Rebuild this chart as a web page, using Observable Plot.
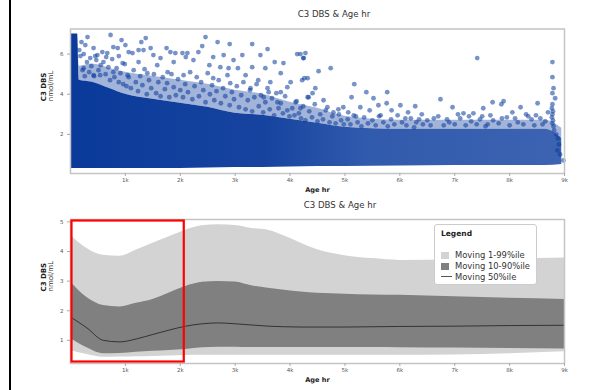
<!DOCTYPE html>
<html><head><meta charset="utf-8">
<script src="https://cdn.jsdelivr.net/npm/d3@7"></script>
<script src="https://cdn.jsdelivr.net/npm/@observablehq/plot@0.6"></script>
<style>
body{margin:0;background:#fff;font-family:"DejaVu Sans",sans-serif;}
#wrap{position:relative;width:592px;height:390px;overflow:hidden;}
.abs{position:absolute;}
.title{font-size:8.6px;color:#333;white-space:nowrap;transform:translateX(-50%);}
#legend{left:434px;top:224px;width:103px;height:61px;border:1px solid #ccc;border-radius:3px;background:#fff;box-sizing:border-box;}
.lgT{position:absolute;left:6px;top:4px;font-size:7.5px;font-weight:bold;color:#222;}
.lgI{position:absolute;left:6px;font-size:8.4px;color:#333;white-space:nowrap;}
.sw{display:inline-block;width:8px;height:7px;vertical-align:-1px;margin-right:6px;}
.ln{display:inline-block;width:11px;height:0;border-top:1.2px solid #555;vertical-align:3px;margin-right:3px;}
</style></head>
<body><div id="wrap"></div>
<script>
// ---------- data ----------
const chartTitle = "C3 DBS & Age hr";
const xLabel = "Age hr";
const yLabel = "C3 DBS";
const yUnit = "nmol/mL";
const xTicks = [1000,2000,3000,4000,5000,6000,7000,8000,9000];
const yTicksTop = [2,4,6];
const yTicksBottom = [1,2,3,4,5];

// top panel: dense core of the scatter (envelopes)
const envAge  = [15, 130, 160, 400, 700, 1000, 1500, 2000, 2500, 3000, 3500, 4000, 4500, 5000, 6000, 7000, 8000, 8650, 8950];
const envLow  = [0.3, 0.3, 0.3, 0.3, 0.3, 0.3, 0.3, 0.3, 0.32, 0.35, 0.35, 0.38, 0.4, 0.4, 0.42, 0.45, 0.45, 0.45, 0.5];
const envCore = [7.0, 7.0, 4.7, 4.6, 4.3, 4.0, 3.75, 3.55, 3.35, 3.05, 2.95, 2.75, 2.55, 2.35, 2.25, 2.25, 2.25, 2.25, 1.8];
const envHaze = [7.0, 7.0, 5.4, 5.5, 5.3, 5.1, 4.9, 4.7, 4.5, 4.2, 4.0, 3.6, 3.3, 2.9, 2.7, 2.7, 2.7, 2.7, 2.3];

// top panel: individual scattered points (age hr, C3 DBS)
const outAge = [310,730,930,1290,1370,200,420,580,860,1060,1240,1460,1750,1910,2100,
 270,360,490,670,780,1000,1130,1330,1510,1640,1820,2040,240,550,950,1240,1580,1880,420,780,1040,1400,1770,2060,
 2460,2680,2900,3310,3590,4130,4190,4240,3130,3460,2790,2600,2330,2400,3720,3880,4010,3830,3310,3050,2730,2970,3550,3830,3610,4100,4320,4320,
 2130,2240,2530,2880,3190,3420,3640,3950,2600,2910,3280,3520,3770,4190,
 4250,4280,4520,4740,4260,4220,4460,4410,4340,4610,5170,5120,5390,5520,5770,5760,6010,6280,4970,5280,5610,4790,
 4890,5060,5450,5850,6150,6400,4650,5200,5650,6100,
 7410,8780,8780,8800,8780,8830,6740,6960,7690,7890,7850,7520,7160,8200,8510,8980,7340,8050,8340,8560,
 8780,8770,8790,8780,8770,8790,8780,8800,8810,8850,8880,8900,8870,8920,
 6500,6700,6900,7100,7300,7500,7700,7950,8150,8400,8600,6300,7600,8000,
 180,220,260,300,340,380,430,470,510,540,600,640,690,720,760,800,840,880,910,960,990,160,240,450,650,880,
 1020,1060,1100,1150,1190,1230,1270,1310,1350,1390,1430,1470,1520,1560,1600,1640,1680,1720,1760,1800,1840,1880,1920,1960,2000,
 2050,2090,2140,2180,2220,2260,2300,2340,2380,2420,2460,2500,2540,2580,2620,2660,2700,2740,2780,2820,2860,2900,2940,2980,
 3030,3070,3110,3150,3190,3230,3270,3310,3350,3390,3430,3470,3510,3550,3590,3630,3670,3710,3750,3790,3830,3870,3910,3950,3990,
 4040,4080,4120,4160,4200,4240,4280,4350,4400,4450,4500,4550,4600,4680,4720,4770,4830,4880,4930,4980,
 5050,5100,5160,5230,5300,5350,5420,5500,5560,5620,5700,5780,5840,5900,5960,6040,6120,6200,6260,6350,6420,
 6560,6620,6800,6860,7000,7060,7200,7260,7400,7460,7560,7650,7800,7860,8100,8250,8300,8450,8480,8650,8700];
const outVal = [6.85,6.95,6.7,6.6,6.8,6.6,6.3,6.1,6.3,6.1,6.2,6.3,6.3,6.05,5.85,
 6.45,5.8,5.95,6.05,6.35,6.45,6.05,6.2,5.95,5.8,6.1,6.05,5.3,5.45,5.55,5.6,5.45,5.6,4.95,5.1,4.95,5.05,5.1,4.95,
 6.85,6.6,6.5,6.5,6.25,6.0,6.0,5.8,5.95,5.95,5.95,5.85,6.1,6.4,5.6,5.55,4.6,5.05,5.35,5.3,5.35,5.7,5.3,4.1,4.1,3.6,3.85,4.8,
 6.05,5.7,5.45,5.3,4.95,4.7,4.6,4.35,4.8,4.55,4.3,3.85,3.6,3.3,
 5.8,6.05,5.15,5.3,4.8,4.7,4.3,4.05,3.85,3.7,4.5,3.85,4.1,3.8,4.1,3.55,3.45,3.4,3.35,3.35,3.45,3.1,
 3.0,3.1,3.2,3.2,3.1,3.0,3.2,2.9,2.95,2.8,
 5.8,5.6,4.85,4.3,4.05,3.8,3.75,3.35,3.6,3.65,3.5,3.3,3.05,3.35,3.55,0.7,3.05,3.1,2.9,2.8,
 3.5,3.3,3.15,3.0,2.85,2.7,2.55,2.4,2.2,2.0,1.8,1.5,1.2,1.0,
 2.7,2.9,2.6,2.8,2.65,2.9,2.7,2.85,2.6,2.75,2.5,2.6,2.5,2.45,
 5.9,5.2,4.9,5.6,5.1,5.4,4.9,5.7,5.2,4.95,5.6,5.0,5.35,4.7,5.75,4.85,5.3,4.6,5.05,4.5,5.5,6.2,6.0,5.9,5.85,5.9,
 4.4,4.85,4.3,5.2,4.6,4.15,4.9,4.45,5.25,4.0,4.7,4.3,5.0,4.05,4.6,3.9,4.85,4.25,4.55,3.85,5.0,4.35,3.95,4.75,4.2,
 3.85,4.5,4.1,5.1,3.75,4.4,4.85,3.9,4.6,4.2,3.6,5.05,4.0,4.45,3.7,4.15,4.7,3.55,4.3,3.9,4.95,3.45,4.1,3.75,
 4.4,3.35,3.95,4.6,3.25,3.7,4.2,3.15,3.85,4.5,3.4,3.95,3.1,3.6,4.3,3.25,3.8,2.95,4.05,3.3,3.55,3.05,3.9,3.2,2.9,
 3.3,2.95,3.65,3.05,2.8,3.4,2.7,3.15,2.85,3.5,2.65,3.0,2.75,3.35,2.6,2.9,2.55,3.25,2.7,2.5,
 2.75,2.5,2.95,2.6,2.4,2.85,2.55,2.7,2.45,2.9,2.6,2.4,2.75,2.5,2.95,2.6,2.45,2.8,2.35,2.75,2.5,
 2.45,2.8,2.45,2.75,2.5,3.0,2.45,2.9,2.5,2.75,2.4,2.95,2.55,2.8,2.8,2.5,3.0,2.45,2.95,2.65,3.1];

// bottom panel: moving percentiles
const bandAge = [0,300,600,900,1200,1500,1800,2100,2400,2700,3000,3300,3600,3900,4200,4500,5000,5500,6000,7000,8000,9000];
const p99 = [4.55,4.1,3.87,3.84,4.05,4.28,4.5,4.72,4.87,4.9,4.88,4.78,4.72,4.52,4.28,4.06,3.86,3.76,3.7,3.72,3.75,3.78];
const p90 = [2.97,2.45,2.18,2.13,2.25,2.38,2.6,2.82,2.96,2.99,2.97,2.84,2.76,2.69,2.63,2.59,2.56,2.53,2.52,2.47,2.42,2.38];
const p50 = [1.79,1.42,1.0,0.95,1.05,1.2,1.35,1.48,1.56,1.59,1.56,1.52,1.48,1.46,1.45,1.45,1.45,1.46,1.47,1.48,1.5,1.51];
const p10 = [1.06,0.75,0.55,0.56,0.6,0.63,0.66,0.69,0.75,0.77,0.77,0.76,0.76,0.76,0.76,0.76,0.76,0.76,0.75,0.74,0.73,0.71];
const p1  = [0.66,0.52,0.43,0.44,0.45,0.46,0.47,0.49,0.5,0.5,0.5,0.5,0.5,0.5,0.5,0.5,0.5,0.5,0.5,0.51,0.55,0.62];
const highlightAge = [0, 2100];

const legendLabels = ["Moving 1-99%ile","Moving 10-90%ile","Moving 50%ile"];
const legendKinds = ["swatch","swatch","line"];
const legendColors = ["#d3d3d3","#808080","#555"];

// ---------- build ----------
const env = envAge.map((a,i)=>({age:a, low:envLow[i], core:envCore[i], haze:envHaze[i]}));
const pts = outAge.map((a,i)=>({age:a, v:outVal[i]}));
const bands = bandAge.map((a,i)=>({age:a, p1:p1[i], p10:p10[i], p50:p50[i], p90:p90[i], p99:p99[i]}));
const fmtK = d => d/1000 + "k";
const wrap = document.getElementById("wrap");
const font = {fontFamily:"DejaVu Sans, sans-serif", background:"transparent", overflow:"visible"};

function axisMarks(yTicks){
  return [
    Plot.axisX({ticks:xTicks, tickFormat:fmtK, tickSize:3, tickPadding:2, fontSize:5.5, stroke:"#aaa", fill:"#555", label:null}),
    Plot.axisY({ticks:yTicks, tickFormat:d=>String(d), tickSize:3, tickPadding:4, fontSize:5.5, stroke:"#aaa", fill:"#555", label:null}),
    Plot.text([xLabel], {frameAnchor:"bottom", dy:18.5, fontSize:6.6, fontWeight:"bold", fill:"#222"}),
    Plot.text([yLabel], {frameAnchor:"left", dx:-27, rotate:-90, fontSize:7, fontWeight:"bold", fill:"#222"}),
    Plot.text([yUnit], {frameAnchor:"left", dx:-20, rotate:-90, fontSize:7, fill:"#333"})
  ];
}

const topChart = Plot.plot({
  width:592, height:195, marginLeft:70, marginRight:28, marginTop:28.5, marginBottom:22,
  x:{domain:[0,9000]}, y:{domain:[0.05,7.25]}, style:font,
  marks:[
    Plot.areaY(env, {x:"age", y1:"core", y2:"haze", fill:"#0a3a9a", fillOpacity:0.38, curve:"monotone-x"}),
    Plot.areaY(env, {x:"age", y1:"low", y2:"core", fill:"url(#coreGrad)", curve:"monotone-x"}),
    Plot.dot(pts, {x:"age", y:"v", r:2.4, fill:"#0a3a9a", fillOpacity:0.55, stroke:"none"}),
    Plot.frame({stroke:"#c4c4c4", strokeWidth:1.5}),
    ...axisMarks(yTicksTop)
  ]
});
d3.select(topChart).insert("defs", ":first-child").html(
  '<linearGradient id="coreGrad" x1="0" x2="1" y1="0" y2="0">' +
  '<stop offset="0" stop-color="#0a3a9a" stop-opacity="1"/>' +
  '<stop offset="0.4" stop-color="#0a3a9a" stop-opacity="0.95"/>' +
  '<stop offset="0.6" stop-color="#0c3d9e" stop-opacity="0.85"/>' +
  '<stop offset="1" stop-color="#0c3d9e" stop-opacity="0.8"/></linearGradient>');
topChart.classList.add("abs"); topChart.style.left="0px"; topChart.style.top="0px";
wrap.appendChild(topChart);

const bottomChart = Plot.plot({
  width:592, height:195, marginLeft:70, marginRight:28, marginTop:24, marginBottom:27,
  x:{domain:[0,9000]}, y:{domain:[0.22,5.08]}, style:font,
  marks:[
    Plot.areaY(bands, {x:"age", y1:"p1", y2:"p99", fill:legendColors[0], curve:"monotone-x"}),
    Plot.areaY(bands, {x:"age", y1:"p10", y2:"p90", fill:legendColors[1], curve:"monotone-x"}),
    Plot.lineY(bands, {x:"age", y:"p50", stroke:"#333", strokeWidth:1, curve:"monotone-x"}),
    Plot.frame({stroke:"#c4c4c4", strokeWidth:1.5}),
    Plot.rect([{x1:highlightAge[0], x2:highlightAge[1]}], {x1:"x1", x2:"x2", inset:1.5, fill:"none", stroke:"#ff0000", strokeWidth:2.2}),
    ...axisMarks(yTicksBottom)
  ]
});
bottomChart.classList.add("abs"); bottomChart.style.left="0px"; bottomChart.style.top="195px";
wrap.appendChild(bottomChart);

// titles
[[334,9],[340,200]].forEach(([x,y])=>{
  const t=document.createElement("div"); t.className="abs title"; t.textContent=chartTitle;
  t.style.left=x+"px"; t.style.top=y+"px"; wrap.appendChild(t);
});
// left black rule
const rule=document.createElement("div"); rule.className="abs";
Object.assign(rule.style,{left:"8.5px",top:"0px",width:"2px",height:"390px",background:"#000"});
wrap.appendChild(rule);
// legend
const lg=document.createElement("div"); lg.id="legend"; lg.className="abs";
let html='<div class="lgT">Legend</div>';
legendLabels.forEach((l,i)=>{
  const mk = legendKinds[i]==="swatch" ? `<span class="sw" style="background:${legendColors[i]}"></span>` : `<span class="ln" style="border-color:${legendColors[i]}"></span>`;
  html += `<div class="lgI" style="top:${25+i*11}px">${mk}${l}</div>`;
});
lg.innerHTML=html; wrap.appendChild(lg);
</script></body></html>
